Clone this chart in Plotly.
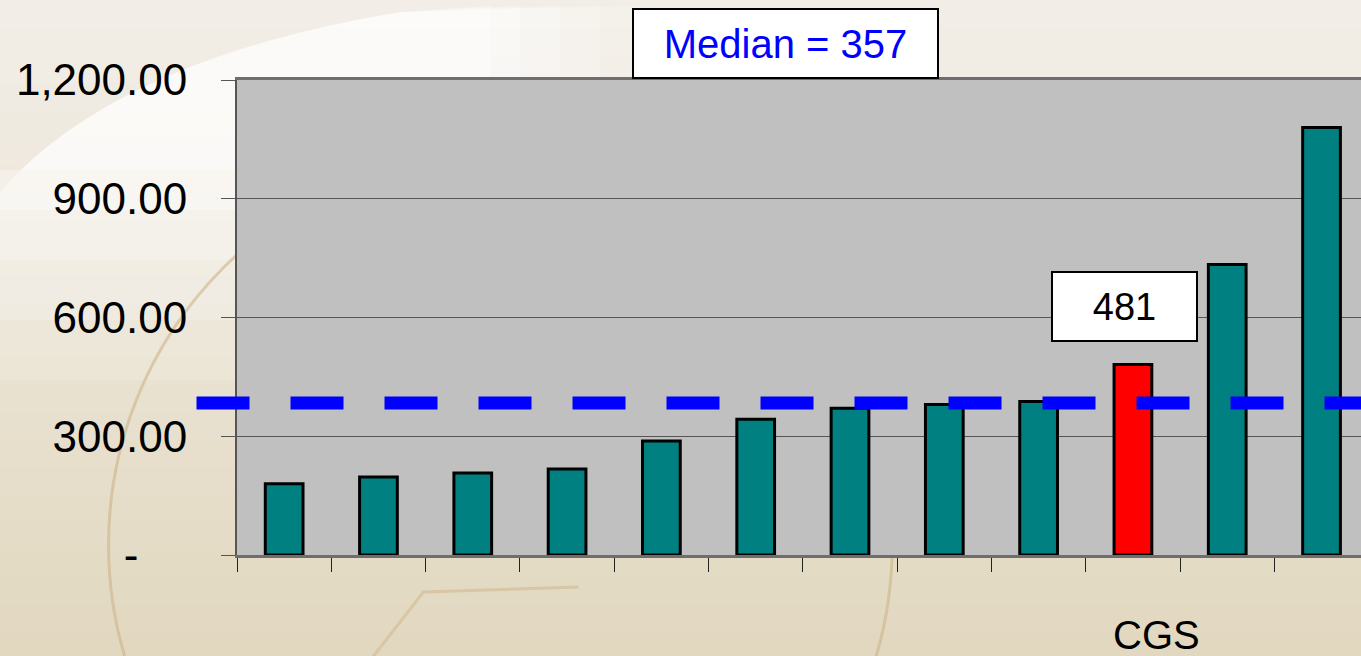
import plotly.graph_objects as go

# ---- data ----
categories = ["A", "B", "C", "D", "E", "F", "G", "H", "I", "CGS", "K", "L"]
values = [180, 197, 207, 217, 288, 343, 371, 380, 388, 481, 734, 1080]
bar_colors = ["#008080"] * 9 + ["#FF0000"] + ["#008080"] * 2
median_line_value = 384
median_label = "Median = 357"
highlight_label = "481"
highlight_category = "CGS"
y_tickvals = [0, 300, 600, 900, 1200]
y_ticktext = ["-\u00a0\u00a0\u00a0\u00a0", "300.00", "600.00", "900.00", "1,200.00"]

W, H = 1361, 656
ML = 236.5
MT = 80
MB = H - 555
PW, PH = W - ML, H - MT - MB


def px(x):
    """page pixel x -> paper"""
    return (x - ML) / PW


def py(y):
    """page pixel y -> paper"""
    return (H - MB - y) / PH


def P(a, b):
    return "%.5f,%.5f" % (px(a), py(b))


def path(points):
    return "M " + " L ".join(P(a, b) for a, b in points)


fig = go.Figure()
fig.add_trace(go.Bar(
    x=categories, y=values,
    marker=dict(color=bar_colors, line=dict(color="black", width=3)),
    width=0.40, showlegend=False, hoverinfo="skip",
))

shapes = []
# background gradient bands
top = (242, 238, 231)
bot = (226, 216, 192)
n = 24
for i in range(n):
    t = i / (n - 1)
    c = tuple(int(round(top[k] + (bot[k] - top[k]) * t)) for k in range(3))
    y0 = i * 660 / n
    y1 = (i + 1) * 660 / n + 1
    shapes.append(dict(type="rect", xref="paper", yref="paper", layer="below",
                       x0=px(-20), x1=px(1400), y0=py(y1), y1=py(y0),
                       line=dict(width=0), fillcolor="rgb(%d,%d,%d)" % c))
# white glow swoosh: layered fills bounded by a curve, fading downward / rightward
for yb, xr, op in [(380, 640, 0.15), (320, 600, 0.2), (260, 560, 0.25),
                   (210, 520, 0.3), (170, 490, 0.35)]:
    p = ("M " + P(-5, 197) + " Q " + P(110, 60) + " " + P(400, 12)
         + " L " + P(xr, 6) + " L " + P(xr, yb) + " L " + P(-5, yb) + " Z")
    shapes.append(dict(type="path", xref="paper", yref="paper", layer="below",
                       path=p, line=dict(width=0),
                       fillcolor="rgba(255,255,255,%.2f)" % op))
# decorative circle
shapes.append(dict(type="circle", xref="paper", yref="paper", layer="below",
                   x0=px(108), x1=px(892), y0=py(937), y1=py(153),
                   line=dict(color="rgba(205,180,135,0.6)", width=3)))
# decorative line segment
shapes.append(dict(type="path", xref="paper", yref="paper", layer="below",
                   path=path([(370, 660), (423, 592), (578, 587)]),
                   line=dict(color="rgba(205,180,135,0.5)", width=3)))
# plot area background
shapes.append(dict(type="rect", xref="paper", yref="paper", layer="below",
                   x0=0, x1=1.02, y0=0, y1=1,
                   line=dict(width=0), fillcolor="#C0C0C0"))
# median dashed line
shapes.append(dict(type="line", xref="paper", yref="y", layer="above",
                   x0=px(196), x1=px(1400), y0=median_line_value, y1=median_line_value,
                   line=dict(color="#0000FF", width=13, dash="53px,41px")))

annotations = [
    dict(text=median_label, xref="paper", yref="paper", x=px(785.5), y=py(43.5),
         xanchor="center", yanchor="middle", showarrow=False,
         font=dict(family="Arial, Liberation Sans", size=40, color="#0000FF"),
         bgcolor="white", bordercolor="black", borderwidth=2, borderpad=0,
         width=303, height=67),
    dict(text=highlight_label, xref="paper", yref="paper", x=px(1124.5), y=py(306.5),
         xanchor="center", yanchor="middle", showarrow=False,
         font=dict(family="Arial, Liberation Sans", size=38, color="black"),
         bgcolor="white", bordercolor="black", borderwidth=2, borderpad=0,
         width=143, height=67),
    dict(text=highlight_category, xref="paper", yref="paper", x=px(1156), y=py(635),
         xanchor="center", yanchor="middle", showarrow=False,
         font=dict(family="Arial, Liberation Sans", size=40, color="black")),
]

fig.update_layout(
    width=W, height=H, autosize=False,
    margin=dict(l=ML, r=0, t=MT, b=MB, pad=0),
    paper_bgcolor="#EFE9DE", plot_bgcolor="rgba(0,0,0,0)",
    shapes=shapes, annotations=annotations,
    xaxis=dict(type="category", range=[-0.5, -0.5 + PW / 94.35],
               showticklabels=False, ticks="outside", tickson="boundaries",
               ticklen=14, tickwidth=1, tickcolor="#222",
               showline=True, linecolor="#6E6E6E", linewidth=3, mirror=True,
               showgrid=False, zeroline=False, fixedrange=True),
    yaxis=dict(range=[0, 1200], tickvals=y_tickvals, ticktext=y_ticktext,
               tickfont=dict(family="Arial, Liberation Sans", size=44, color="black"),
               ticks="outside", ticklen=14, tickwidth=1, tickcolor="#555",
               ticklabelstandoff=25,
               showline=True, linecolor="#555", linewidth=2,
               showgrid=True, gridcolor="#555", gridwidth=1, zeroline=False,
               fixedrange=True),
)

fig.write_html("out.html", config={"displayModeBar": False},
               post_script="document.body.style.margin='0';document.body.style.overflow='hidden';")
